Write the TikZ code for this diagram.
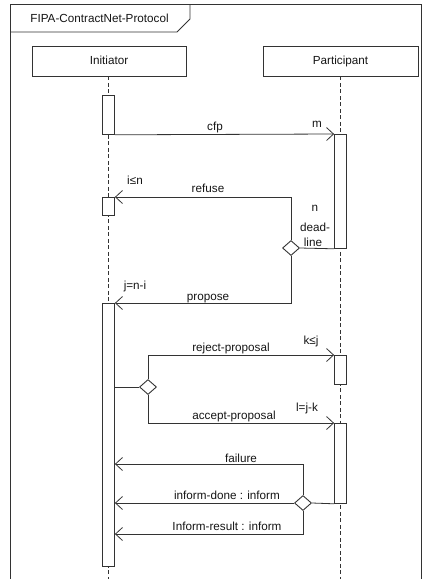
\documentclass[tikz,border=0pt]{standalone}
\usepackage{fontspec}
\setmainfont{Liberation Sans}
\usetikzlibrary{arrows.meta,shapes.geometric}
\definecolor{ln}{HTML}{333333}
\definecolor{tx}{HTML}{151515}
\begin{document}
\begin{tikzpicture}[x=1pt,y=-1pt,
  every node/.style={font=\fontsize{11.7}{13}\selectfont, text=tx},
  lbl/.style={inner sep=0pt, text height=8.5pt, text depth=2.5pt},
  headbox/.style={draw=ln, line width=0.8pt, fill=white, minimum width=154pt, minimum height=30pt, inner sep=0pt, text height=8.5pt, text depth=2.5pt},
  bar/.style={draw=ln, line width=0.8pt, fill=white, minimum width=12pt, inner sep=0pt, anchor=north},
  choice/.style={draw=ln, line width=0.9pt, fill=white, shape=diamond, minimum width=17pt, minimum height=15pt, inner sep=0pt},
  life/.style={draw=ln, dashed, line width=0.7pt, dash pattern=on 4pt off 2.5pt},
  msg/.style={draw=ln, line width=0.8pt, -{Straight Barb[length=7pt,width=13pt,line width=0.8pt]}},
  link/.style={draw=ln, line width=0.8pt},
  frame/.style={draw=ln, line width=0.8pt}]
\useasboundingbox (0,0) rectangle (424,579);
% frame
\draw[frame] (10,4) rectangle (421,583);
\draw[frame] (10,32) -- (177,32) -- (190,19) -- (190,4);
\node[lbl] (title) at (99.5,19) {FIPA-ContractNet-Protocol};
% heads
\node[headbox] (ini) at (109,61) {Initiator};
\node[headbox, minimum width=155pt] (par) at (340.5,61) {Participant};
\coordinate (iniend) at (108.5,583);
\coordinate (parend) at (340.5,583);
\draw[life] (ini.south -| iniend) -- (iniend);
\draw[life] (par.south -| parend) -- (parend);
% activation bars
\node[bar, minimum height=39pt] (ib1) at (108.5,95) {};
\node[bar, minimum height=18pt] (ib2) at (108.5,197) {};
\node[bar, minimum height=263pt] (ib3) at (108.5,303) {};
\node[bar, minimum height=114pt] (pb1) at (340.5,134) {};
\node[bar, minimum height=29pt] (pb2) at (340.5,355) {};
\node[bar, minimum height=80pt] (pb3) at (340.5,423) {};
% choice points
\node[choice] (d1) at (291,248) {};
\node[choice] (d2) at (148,387) {};
\node[choice] (d3) at (303,503) {};
\coordinate (fail) at (108.5,464);
\coordinate (res) at (108.5,534);
% messages
\draw[msg] (ib1.south east) -- (pb1.north west);
\draw[link] (d1.east) -- (pb1.south west);
\draw[msg] (d1.north) |- (ib2.north east);
\draw[msg] (d1.south) |- (ib3.north east);
\draw[link] (d2.west -| ib3.east) -- (d2.west);
\draw[msg] (d2.north) |- (pb2.north west);
\draw[msg] (d2.south) |- (pb3.north west);
\draw[link] (d3.east) -- (pb3.south west);
\draw[msg] (d3.north) |- (fail -| ib3.east);
\draw[msg] (d3.west) -- (d3.west -| ib3.east);
\draw[msg] (d3.south) |- (res -| ib3.east);
% labels
\node[lbl] (lcfp) at (215,127) {cfp};
\node[lbl] (lm) at (317,124) {m};
\node[lbl] (lin) at (135,181) {i≤n};
\node[lbl] (lref) at (208,189) {refuse};
\node[lbl] (ln) at (315,208) {n};
\node[lbl] (ldead) at (315,228) {dead-};
\node[lbl] (lline) at (313,243) {line};
\node[lbl] (ljni) at (135,286) {j=n-i};
\node[lbl] (lprop) at (208,297) {propose};
\node[lbl] (lkj) at (311,341) {k≤j};
\node[lbl] (lrej) at (231,348) {reject-proposal};
\node[lbl] (ljk) at (307,408) {l=j-k};
\node[lbl] (lacc) at (234,416) {accept-proposal};
\node[lbl] (lfail) at (241,459) {failure};
\node[lbl] (ldone) at (227,496) {inform-done : inform};
\node[lbl] (lres) at (227,527) {Inform-result : inform};
\end{tikzpicture}
\end{document}
